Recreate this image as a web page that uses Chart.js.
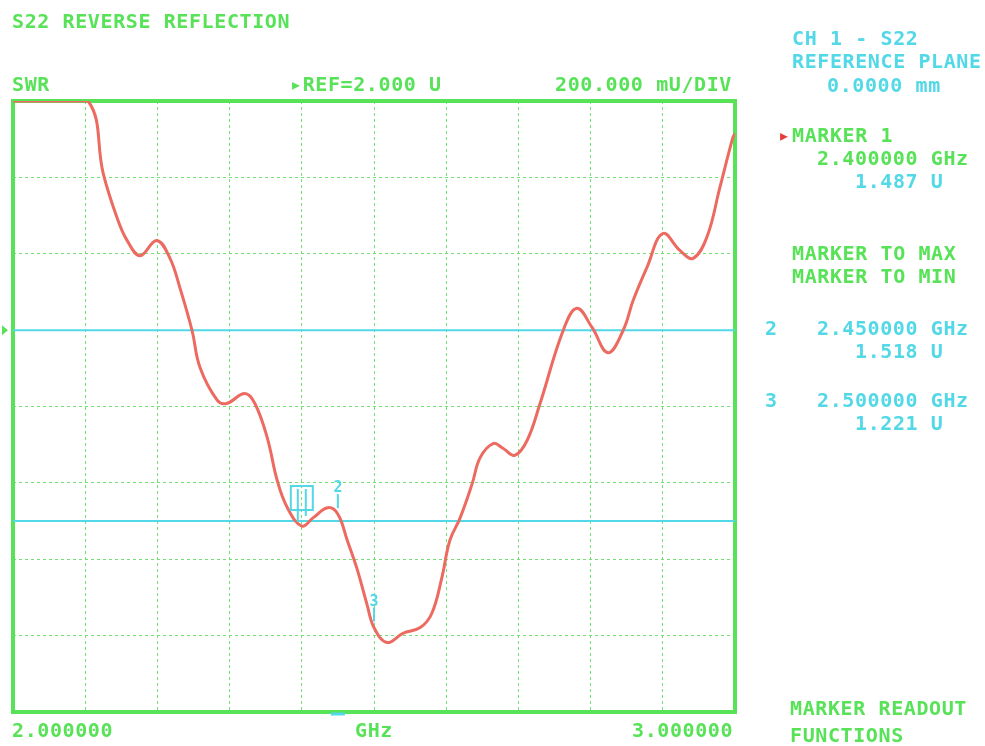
<!DOCTYPE html>
<html>
<head>
<meta charset="utf-8">
<script src="https://cdn.jsdelivr.net/npm/chart.js@4/dist/chart.umd.min.js"></script>
<style>
  html, body { margin: 0; padding: 0; background: #ffffff; }
  #wrap { position: relative; width: 985px; height: 746px; overflow: hidden; }
  #wrap canvas { position: absolute; left: 0; top: 0; }
  .t { position: absolute; font-family: "DejaVu Sans Mono", monospace; font-weight: bold;
       font-size: 20px; line-height: 20px; letter-spacing: 0.6px; white-space: pre; }
  .g { color: #58e258; }
  .c { color: #52d8e6; }
  .r { color: #e83a3a; }
</style>
</head>
<body>
<div id="wrap">
  <canvas id="chart" width="985" height="746"></canvas>

  <div class="t g" style="left:12px;top:11px">S22 REVERSE REFLECTION</div>
  <div class="t g" style="left:12px;top:74px">SWR</div>
  <div class="t g" style="left:290px;top:74px">▸REF=2.000 U</div>
  <div class="t g" style="left:555px;top:74px">200.000 mU/DIV</div>

  <div class="t c" style="left:792px;top:28px">CH 1 - S22</div>
  <div class="t c" style="left:792px;top:51px">REFERENCE PLANE</div>
  <div class="t c" style="left:827px;top:75px">0.0000 mm</div>

  <div class="t r" style="left:778px;top:125px">▸</div>
  <div class="t g" style="left:792px;top:125px">MARKER 1</div>
  <div class="t g" style="left:817px;top:148px">2.400000 GHz</div>
  <div class="t c" style="left:855px;top:171px">1.487 U</div>

  <div class="t g" style="left:792px;top:243px">MARKER TO MAX</div>
  <div class="t g" style="left:792px;top:266px">MARKER TO MIN</div>

  <div class="t c" style="left:765px;top:318px">2</div>
  <div class="t c" style="left:817px;top:318px">2.450000 GHz</div>
  <div class="t c" style="left:855px;top:341px">1.518 U</div>

  <div class="t c" style="left:765px;top:390px">3</div>
  <div class="t c" style="left:817px;top:390px">2.500000 GHz</div>
  <div class="t c" style="left:855px;top:413px">1.221 U</div>

  <div class="t g" style="left:790px;top:698px">MARKER READOUT</div>
  <div class="t g" style="left:790px;top:725px">FUNCTIONS</div>

  <div class="t g" style="left:12px;top:720px">2.000000</div>
  <div class="t g" style="left:355px;top:720px">GHz</div>
  <div class="t g" style="left:632px;top:720px">3.000000</div>
</div>

<script>
// Sweep: 2.0 – 3.0 GHz, SWR trace of port 2
const freqGHz = [2.000, 2.050, 2.104, 2.125, 2.144, 2.158, 2.176, 2.199, 2.217, 2.231,
                 2.248, 2.259, 2.283, 2.296, 2.321, 2.335, 2.352, 2.366, 2.380, 2.400,
                 2.416, 2.436, 2.450, 2.463, 2.476, 2.490, 2.500, 2.518, 2.540, 2.564,
                 2.580, 2.594, 2.605, 2.619, 2.636, 2.647, 2.665, 2.679, 2.695, 2.712,
                 2.730, 2.762, 2.781, 2.802, 2.824, 2.845, 2.859, 2.878, 2.900, 2.924,
                 2.942, 2.961, 2.979, 2.997, 3.000];
const swr     = [2.600, 2.600, 2.600, 2.410, 2.295, 2.235, 2.195, 2.235, 2.190, 2.112,
                 1.999, 1.902, 1.816, 1.808, 1.834, 1.808, 1.719, 1.606, 1.535, 1.487,
                 1.509, 1.535, 1.518, 1.449, 1.378, 1.284, 1.221, 1.182, 1.206, 1.221,
                 1.258, 1.352, 1.449, 1.507, 1.598, 1.666, 1.703, 1.690, 1.672, 1.711,
                 1.808, 1.999, 2.057, 2.007, 1.941, 1.999, 2.078, 2.164, 2.253, 2.208,
                 2.188, 2.243, 2.373, 2.504, 2.515];

// Markers 1..3 (frequency, SWR reading)
const markerTags = ['1', '2', '3'];
const markerFreq = [2.400, 2.450, 2.500];
const markerSwr  = [1.487, 1.518, 1.221];

// Reference level and limit line
const refLevel  = 2.0;
const limitLine = 1.5;

// Display scale: start/stop frequency, ref position, 200 mU/div
const freqStart = 2.0, freqStop = 3.0, freqDiv = 0.1;
const swrBottom = 1.0, swrTop = 2.6, swrDiv = 0.2;

const GREEN = '#58e258';
const CYAN  = '#52d8e6';
const RED   = '#ec6a60';
const GRID  = 'rgba(110,220,110,0.95)';

const frame = {
  id: 'frame',
  beforeDatasetsDraw(chart) {
    const { ctx, chartArea: a } = chart;
    ctx.save();
    ctx.strokeStyle = GREEN;
    ctx.lineWidth = 4;
    ctx.strokeRect(a.left, a.top, a.right - a.left, a.bottom - a.top);
    // reference position pointer on the left edge
    const yRef = chart.scales.y.getPixelForValue(refLevel);
    ctx.fillStyle = GREEN;
    ctx.beginPath();
    ctx.moveTo(2, yRef - 5); ctx.lineTo(8, yRef); ctx.lineTo(2, yRef + 5);
    ctx.closePath(); ctx.fill();
    ctx.restore();
  },
  afterDatasetsDraw(chart) {
    const { ctx, scales: { x, y }, chartArea: a } = chart;
    ctx.save();
    ctx.strokeStyle = CYAN;
    ctx.fillStyle = CYAN;
    ctx.lineWidth = 2;
    markerFreq.forEach((f, i) => {
      const px = x.getPixelForValue(f);
      const py = y.getPixelForValue(markerSwr[i]);
      if (i === 0) {
        // active marker: boxed symbol
        ctx.strokeRect(px - 11, py - 40, 22, 24);
        ctx.beginPath();
        ctx.moveTo(px - 4, py - 37); ctx.lineTo(px - 4, py - 4);
        ctx.moveTo(px + 4, py - 37); ctx.lineTo(px + 4, py - 10);
        ctx.stroke();
      } else {
        ctx.font = 'bold 15px "DejaVu Sans Mono", monospace';
        ctx.textAlign = 'center';
        ctx.textBaseline = 'alphabetic';
        ctx.fillText(markerTags[i], px, py - 22);
        ctx.beginPath();
        ctx.moveTo(px, py - 20); ctx.lineTo(px, py - 6);
        ctx.stroke();
      }
    });
    // marker position strip under the graticule
    const pm = x.getPixelForValue(markerFreq[1]);
    ctx.lineWidth = 3;
    ctx.beginPath();
    ctx.moveTo(pm - 7, a.bottom + 2); ctx.lineTo(pm + 7, a.bottom + 2);
    ctx.stroke();
    ctx.restore();
  }
};

new Chart(document.getElementById('chart'), {
  type: 'line',
  data: {
    datasets: [
      {
        data: freqGHz.map((f, i) => ({ x: f, y: swr[i] })),
        borderColor: RED,
        borderWidth: 3,
        pointRadius: 0,
        tension: 0.4,
        order: 0
      },
      {
        data: [{ x: freqStart, y: refLevel }, { x: freqStop, y: refLevel }],
        borderColor: CYAN,
        borderWidth: 2,
        pointRadius: 0,
        order: 1
      },
      {
        data: [{ x: freqStart, y: limitLine }, { x: freqStop, y: limitLine }],
        borderColor: CYAN,
        borderWidth: 2,
        pointRadius: 0,
        order: 1
      }
    ]
  },
  options: {
    responsive: false,
    animation: false,
    events: [],
    layout: { padding: { left: 13, right: 250, top: 101, bottom: 34 } },
    plugins: { legend: { display: false }, tooltip: { enabled: false } },
    scales: {
      x: {
        type: 'linear', min: freqStart, max: freqStop,
        ticks: { display: false, stepSize: freqDiv },
        grid: { color: GRID, lineWidth: 1, drawTicks: false },
        border: { display: false, dash: [3, 3] }
      },
      y: {
        type: 'linear', min: swrBottom, max: swrTop,
        ticks: { display: false, stepSize: swrDiv },
        grid: { color: GRID, lineWidth: 1, drawTicks: false },
        border: { display: false, dash: [3, 3] }
      }
    }
  },
  plugins: [frame]
});
</script>
</body>
</html>
